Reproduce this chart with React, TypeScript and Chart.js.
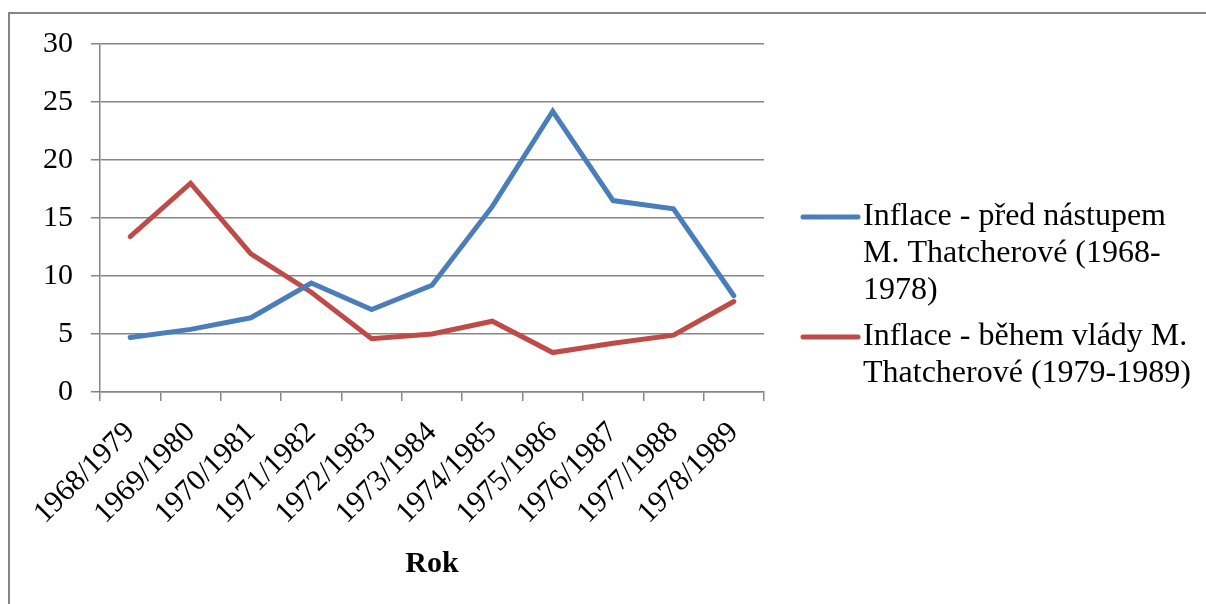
import React, { useEffect, useRef } from "react";
import { Chart, registerables } from "chart.js";

Chart.register(...registerables);

const categories = [
  "1968/1979", "1969/1980", "1970/1981", "1971/1982", "1972/1983", "1973/1984",
  "1974/1985", "1975/1986", "1976/1987", "1977/1988", "1978/1989",
];
const beforeThatcher = [4.7, 5.4, 6.4, 9.4, 7.1, 9.2, 16.0, 24.2, 16.5, 15.8, 8.3];
const duringThatcher = [13.4, 18.0, 11.9, 8.6, 4.6, 5.0, 6.1, 3.4, 4.2, 4.9, 7.8];
const seriesLabels = [
  ["Inflace - před nástupem", "M. Thatcherové (1968-", "1978)"],
  ["Inflace - během vlády M.", "Thatcherové (1979-1989)"],
];
const xTitle = "Rok";

const FONT = "'Liberation Serif', 'Times New Roman', serif";
const BLUE = "#4A7EBB";
const RED = "#BE4B48";
const GRID = "#868686";

const frame = {
  id: "frame",
  beforeDraw(chart: any) {
    const ctx = chart.ctx;
    ctx.save();
    ctx.fillStyle = "#ffffff";
    ctx.fillRect(0, 0, chart.width, chart.height);
    ctx.strokeStyle = GRID;
    ctx.lineWidth = 2;
    ctx.strokeRect(9, 13, chart.width + 20, chart.height + 20);
    ctx.restore();
  },
};

const customLegend = {
  id: "customLegend",
  afterDraw(chart: any) {
    const ctx = chart.ctx;
    const area = chart.chartArea;
    const x0 = area.right + 39;
    const lineLen = 55;
    const lh = 37;
    let y = 217;
    ctx.save();
    ctx.font = `32px ${FONT}`;
    ctx.textBaseline = "middle";
    ctx.textAlign = "left";
    chart.data.datasets.forEach((ds: any, i: number) => {
      ctx.strokeStyle = ds.borderColor;
      ctx.lineWidth = 5;
      ctx.lineCap = "round";
      ctx.beginPath();
      ctx.moveTo(x0, y);
      ctx.lineTo(x0 + lineLen, y);
      ctx.stroke();
      ctx.fillStyle = "#000";
      const lines = seriesLabels[i];
      lines.forEach((t, j) => {
        ctx.fillText(t, x0 + lineLen + 5, y + j * lh);
      });
      y += lines.length * lh + 9;
    });
    ctx.restore();
  },
};

export default function App() {
  const ref = useRef<HTMLCanvasElement>(null);
  useEffect(() => {
    const canvas = ref.current!;
    const chart = new Chart(canvas, {
      type: "line",
      data: {
        labels: categories,
        datasets: [
          {
            label: seriesLabels[0].join(" "),
            data: beforeThatcher,
            borderColor: BLUE,
            backgroundColor: BLUE,
            borderWidth: 5,
            pointRadius: 0,
            tension: 0,
            borderCapStyle: "round",
          },
          {
            label: seriesLabels[1].join(" "),
            data: duringThatcher,
            borderColor: RED,
            backgroundColor: RED,
            borderWidth: 5,
            pointRadius: 0,
            tension: 0,
            borderCapStyle: "round",
          },
        ],
      },
      options: {
        responsive: false,
        animation: false,
        layout: { padding: { left: 0, top: 44, right: 442, bottom: 0 } },
        plugins: {
          legend: { display: false },
          tooltip: { enabled: false },
        },
        scales: {
          x: {
            offset: true,
            grid: {
              offset: true,
              drawOnChartArea: false,
              drawTicks: true,
              tickLength: 9,
              color: GRID,
              lineWidth: 1.5,
            },
            border: { display: true, color: GRID, width: 1.5 },
            ticks: {
              minRotation: 45,
              maxRotation: 45,
              autoSkip: false,
              padding: 14,
              color: "#000",
              font: { family: FONT, size: 30 },
            },
            title: {
              display: true,
              text: xTitle,
              color: "#000",
              font: { family: FONT, size: 30, weight: "bold" },
              padding: { top: 0, bottom: 22 },
            },
            afterFit: (scale: any) => {
              scale.height = 604 - 392;
            },
          },
          y: {
            min: 0,
            max: 30,
            ticks: {
              stepSize: 5,
              padding: 18,
              color: "#000",
              font: { family: FONT, size: 30 },
            },
            grid: {
              color: GRID,
              lineWidth: 1.5,
              tickLength: 9,
              drawTicks: true,
            },
            border: { display: true, color: GRID, width: 1.5 },
            afterFit: (scale: any) => {
              scale.width = 100;
            },
          },
        },
      },
      plugins: [frame, customLegend],
    } as any);
    return () => chart.destroy();
  }, []);
  return (
    <div style={{ position: "absolute", left: 0, top: 0, width: 1206, height: 604 }}>
      <canvas ref={ref} width={1206} height={604} style={{ width: 1206, height: 604 }} />
    </div>
  );
}
